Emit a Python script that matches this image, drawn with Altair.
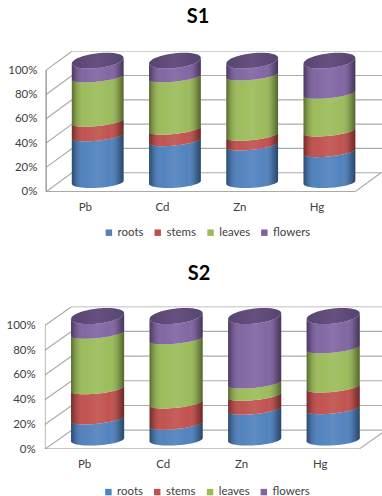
import math
import altair as alt
import pandas as pd

metals = ["Pb", "Cd", "Zn", "Hg"]
organs = ["roots", "stems", "leaves", "flowers"]
organ_colors = ["#4F81BD", "#C0504D", "#9BBB59", "#8064A2"]

s1_roots = [38.0, 34.0, 30.5, 25.0]
s1_stems = [12.0, 9.5, 8.0, 17.0]
s1_leaves = [36.5, 43.0, 49.5, 31.0]
s1_flowers = [13.5, 13.5, 12.0, 27.0]

s2_roots = [16.7, 12.4, 24.5, 25.0]
s2_stems = [24.4, 17.2, 11.3, 17.5]
s2_leaves = [44.9, 51.9, 9.9, 31.7]
s2_flowers = [14.0, 18.5, 54.3, 25.8]

FONT = "Lato"
TEXT = "#404040"
TICKS = [0, 20, 40, 60, 80, 100]
N_ARC = 49

# Ring shape of a cylinder, in percent units: (half height, tilt).
RING_BOTTOM = (4.6, 1.3)
RING_MIDDLE = (3.8, 2.2)
RING_TOP = (6.1, 2.3)


def gradient(stops):
    return alt.LinearGradient(
        gradient="linear", x1=0, x2=1, y1=0, y2=0,
        stops=[alt.GradientStop(offset=o, color=c) for o, c in stops],
    )


SIDE_SHADE = gradient([
    (0.0, "rgba(0,0,0,0.42)"),
    (0.08, "rgba(0,0,0,0.16)"),
    (0.25, "rgba(255,255,255,0.02)"),
    (0.5, "rgba(255,255,255,0.09)"),
    (0.72, "rgba(255,255,255,0.02)"),
    (0.9, "rgba(0,0,0,0.2)"),
    (1.0, "rgba(0,0,0,0.46)"),
])
LID_FILL = gradient([(0.0, "#574470"), (0.5, "#66507F"), (1.0, "#574470")])


def panel(name, series, geom):
    """One 3-D stacked cylinder panel; x is in category units, y in percent."""
    dx, dy, a = geom["dx"], geom["dy"], geom["a"]
    x_scale = alt.Scale(domain=[geom["x0"], geom["x1"]], nice=False, zero=False)
    y_scale = alt.Scale(domain=[0, 100 + dy], nice=False, zero=False)

    x_axis = alt.Axis(
        values=[i + 0.5 for i in range(4)],
        labelExpr="{0: 'Pb', 1: 'Cd', 2: 'Zn', 3: 'Hg'}[floor(datum.value)]",
        labelAngle=0, labelFont=FONT, labelFontSize=geom["font"], labelColor=TEXT,
        labelPadding=geom["xpad"], labelFlush=False, labelOverlap=False,
        domain=False, ticks=False, grid=False, title=None,
    )
    y_axis = alt.Axis(
        values=TICKS, labelExpr="datum.value + '%'",
        labelFont=FONT, labelFontSize=geom["font"], labelColor=TEXT,
        labelPadding=geom["ypad"], labelFlush=False, labelOverlap=False,
        domain=False, ticks=False, grid=False, title=None,
    )

    def arc_point(i, level, t, ring):
        b, tilt = ring
        x = i + 0.5 + dx / 2 + a * math.cos(t)
        y = level + dy / 2 + b * math.sin(t) + tilt * math.cos(t)
        return x, y

    seg_rows, shade_rows, lid_rows = [], [], []
    for i, metal in enumerate(metals):
        low, low_ring = 0.0, RING_BOTTOM
        for n, (organ, values) in enumerate(zip(organs, series)):
            high = low + values[i]
            high_ring = RING_TOP if n == len(organs) - 1 else RING_MIDDLE
            for k in range(N_ARC):
                t = math.pi + math.pi * k / (N_ARC - 1)
                x, y0 = arc_point(i, low, t, low_ring)
                _, y1 = arc_point(i, high, t, high_ring)
                seg_rows.append(dict(metal=metal, organ=organ, x=x, y0=y0, y1=y1))
            low, low_ring = high, high_ring
        for k in range(N_ARC):
            t = math.pi + math.pi * k / (N_ARC - 1)
            x, y0 = arc_point(i, 0.0, t, RING_BOTTOM)
            _, y1 = arc_point(i, low, t, RING_TOP)
            shade_rows.append(dict(metal=metal, x=x, y0=y0, y1=y1))
            _, lid_top = arc_point(i, low, -t, RING_TOP)
            lid_rows.append(dict(metal=metal, x=x, y0=y1, y1=lid_top))

    back_rows = [dict(x=dx, x2=geom["x1"], y=v + dy, y2=v + dy) for v in TICKS]
    back_rows += [dict(x=0, x2=dx, y=v, y2=v + dy) for v in TICKS]
    back_rows += [dict(x=4, x2=4 + dx, y=0, y2=dy)]
    front_rows = [dict(x=0, x2=0, y=0, y2=100), dict(x=0, x2=4, y=0, y2=0)]

    def wall(rows, color, width):
        return alt.Chart(pd.DataFrame(rows)).mark_rule(
            color=color, strokeWidth=width, clip=True
        ).encode(
            x=alt.X("x:Q", scale=x_scale, axis=x_axis),
            x2="x2:Q",
            y=alt.Y("y:Q", scale=y_scale, axis=y_axis),
            y2="y2:Q",
        )

    segments = alt.Chart(pd.DataFrame(seg_rows)).mark_area(clip=True).encode(
        x=alt.X("x:Q", scale=x_scale, axis=x_axis),
        y=alt.Y("y1:Q", scale=y_scale, axis=y_axis, stack=False),
        y2="y0:Q",
        color=alt.Color(
            "organ:N",
            scale=alt.Scale(domain=organs, range=organ_colors),
            legend=alt.Legend(
                orient="none", legendX=geom["legx"], legendY=geom["legy"],
                direction="horizontal", columns=4, title=None,
                symbolType="square", symbolSize=42, symbolStrokeWidth=0,
                labelFont=FONT, labelFontSize=geom["font"], labelColor=TEXT,
                labelOffset=3, columnPadding=geom["legpad"],
            ),
        ),
        detail="metal:N",
    )

    shade = alt.Chart(pd.DataFrame(shade_rows)).mark_area(fill=SIDE_SHADE).encode(
        x=alt.X("x:Q", scale=x_scale, axis=x_axis),
        y=alt.Y("y1:Q", scale=y_scale, axis=y_axis, stack=False),
        y2="y0:Q",
        detail="metal:N",
    )
    lids = alt.Chart(pd.DataFrame(lid_rows)).mark_area(fill=LID_FILL).encode(
        x=alt.X("x:Q", scale=x_scale, axis=x_axis),
        y=alt.Y("y1:Q", scale=y_scale, axis=y_axis, stack=False),
        y2="y0:Q",
        detail="metal:N",
    )

    return alt.layer(
        wall(back_rows, "#ABABAB", 1.2),
        wall(front_rows, "#8E8E8E", 1.3),
        segments, shade, lids,
    ).properties(
        width=338.3,
        height=geom["height"],
        title=alt.TitleParams(
            name, anchor="middle", frame="group", dx=geom["tdx"], offset=geom["toff"],
            font=FONT, fontSize=20, fontWeight="bold", color="#000000",
        ),
    )


s1 = panel(
    "S1", [s1_roots, s1_stems, s1_leaves, s1_flowers],
    dict(dx=0.335, dy=15.6, a=0.335, x0=-0.0168, x1=4.348,
         height=141, font=11.5, xpad=10, ypad=8, legx=58.5, legy=35 + 141, legpad=8,
         tdx=-15.5, toff=24),
)
s2 = panel(
    "S2", [s2_roots, s2_stems, s2_leaves, s2_flowers],
    dict(dx=0.343, dy=15.3, a=0.338, x0=0.0, x1=4.293,
         height=143, font=11.5, xpad=9, ypad=9.7, legx=58, legy=37 + 143, legpad=8,
         tdx=-14.5, toff=23),
)

chart = (
    alt.vconcat(s1, s2, spacing=115.3, bounds="flush")
    .resolve_legend(color="independent")
    .resolve_scale(x="independent", y="independent", color="independent")
    .properties(padding=dict(left=6, top=6.5, right=0, bottom=0), background="white")
    .configure_view(stroke=None)
)

chart.save("out.html", embed_options={"renderer": "svg", "actions": False})
